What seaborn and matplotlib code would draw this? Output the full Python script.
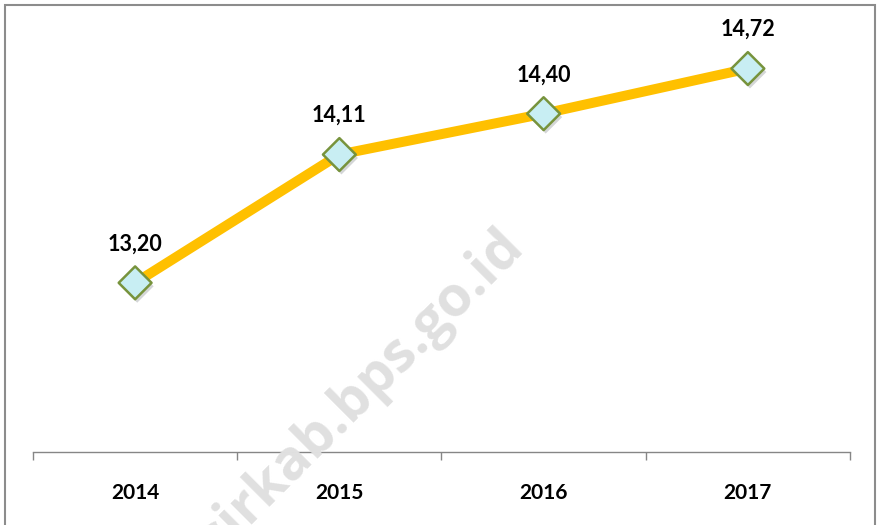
import matplotlib
matplotlib.use("Agg")
import matplotlib.pyplot as plt
import matplotlib.patheffects as pe
from matplotlib.patches import Rectangle
import seaborn as sns
import pandas as pd

# data
years = ["2014", "2015", "2016", "2017"]
values = [13.20, 14.11, 14.40, 14.72]
labels = ["13,20", "14,11", "14,40", "14,72"]

df = pd.DataFrame({"year": years, "value": values})

sns.set_theme(style="white")
plt.rcParams["font.family"] = ["Lato", "DejaVu Sans"]

fig = plt.figure(figsize=(8.78, 5.25), dpi=100)
ax = fig.add_axes([33 / 878, 1 - 452 / 525, (850 - 33) / 878, (452 - 15) / 525])

# garis
sns.lineplot(data=df, x="year", y="value", ax=ax, color="#FFC000",
             linewidth=7.2, sort=False, zorder=2)

# penanda berlian
sns.scatterplot(data=df, x="year", y="value", ax=ax, marker="D", s=280,
                color="#C8EEF3", edgecolor="#77933C", linewidth=1.8, zorder=3,
                path_effects=[pe.SimplePatchShadow(offset=(1.5, -2.5), alpha=0.22),
                              pe.Normal()])

# label nilai
for i, lab in enumerate(labels):
    ax.annotate(lab, (i, values[i]), xytext=(0, 28), textcoords="offset points",
                ha="center", va="center", fontsize=15.5, fontweight="bold",
                color="#000000")

ax.set_xlim(-0.5, 3.5)
ax.set_ylim(12.0, 15.1)
ax.set_xlabel("")
ax.set_ylabel("")
ax.set_yticks([])

for s in ["top", "right", "left"]:
    ax.spines[s].set_visible(False)
ax.spines["bottom"].set_color("#868686")
ax.spines["bottom"].set_linewidth(1.0)

ax.set_xticks(range(len(years)))
ax.set_xticklabels(years, fontsize=15, fontweight="bold", color="#000000")
ax.set_xticks([-0.5, 0.5, 1.5, 2.5, 3.5], minor=True)
ax.tick_params(axis="x", which="major", length=0, pad=22)
ax.tick_params(axis="x", which="minor", length=6, width=1.0, color="#868686",
               direction="out", bottom=True)

# watermark
fig.text(361 / 878, 1 - 392 / 525, "sirkab.bps.go.id", rotation=45,
         ha="center", va="center", fontsize=40, fontweight="bold",
         color="#e0e0e0", zorder=0, family=["Open Sans", "DejaVu Sans"])

# bingkai
fig.patches.append(Rectangle((5 / 878, -0.05), 870 / 878, 1.05 - 5 / 525,
                             transform=fig.transFigure, fill=False,
                             edgecolor="#8c8c8c", linewidth=1.5, zorder=5))

fig.savefig("out.png", dpi=100)
